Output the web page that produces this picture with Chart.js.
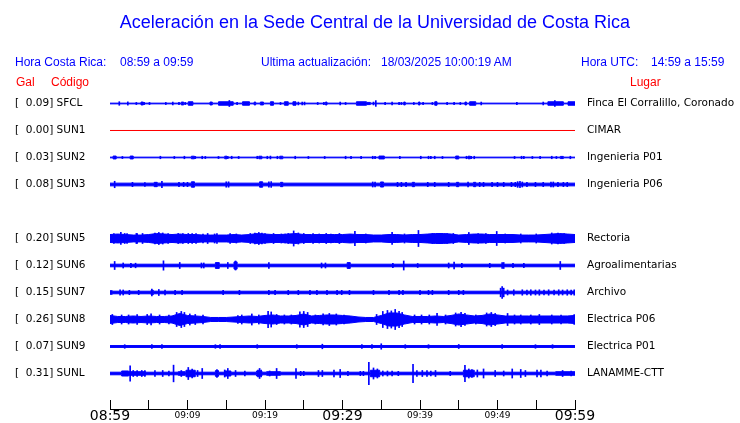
<!DOCTYPE html>
<html>
<head>
<meta charset="utf-8">
<title>Aceleración Sede Central UCR</title>
<script src="https://cdn.jsdelivr.net/npm/chart.js@4/dist/chart.umd.min.js"></script>
<style>
  body{margin:0;background:#fff;}
  #wrap{position:relative;width:740px;height:423px;overflow:hidden;}
  #wrap canvas{position:absolute;left:0;top:0;}
  .t{position:absolute;white-space:pre;line-height:1;font-family:'Liberation Sans',Arial,sans-serif;font-size:12px;color:#0000ff;}
  .red{color:#ff0000;}
  #title{left:0;width:750px;text-align:center;top:13px;font-size:18px;}
</style>
</head>
<body>
<div id="wrap">
  <canvas id="seis" width="740" height="423"></canvas>
  <div class="t" id="title">Aceleración en la Sede Central de la Universidad de Costa Rica</div>
  <div class="t" style="left:15px;top:56px">Hora Costa Rica:</div>
  <div class="t" style="left:120px;top:56px">08:59 a 09:59</div>
  <div class="t" style="left:261px;top:56px">Ultima actualización:</div>
  <div class="t" style="left:381px;top:56px">18/03/2025 10:00:19 AM</div>
  <div class="t" style="left:581px;top:56px">Hora UTC:</div>
  <div class="t" style="left:651px;top:56px">14:59 a 15:59</div>
  <div class="t red" style="left:16px;top:76px">Gal</div>
  <div class="t red" style="left:51px;top:76px">Código</div>
  <div class="t red" style="left:630px;top:76px">Lugar</div>
</div>
<script>
// stations, top to bottom (slot 4 is empty, SUN4 not reporting)
const codes = ['SFCL','SUN1','SUN2','SUN3','SUN5','SUN6','SUN7','SUN8','SUN9','SUNL'];
const places = ['Finca El Corralillo, Coronado','CIMAR','Ingenieria P01','Ingenieria P06','Rectoria',
  'Agroalimentarias','Archivo','Electrica P06','Electrica P01','LANAMME-CTT'];
const peakGal = [0.09,0.00,0.03,0.08,0.20,0.12,0.15,0.26,0.07,0.31];
const slots = [0,1,2,3,5,6,7,8,9,10];

// time axis, minutes after 08:59
const timeMinutes = [0,10,20,30,40,50,60];
const timeLabels = ['08:59','09:09','09:19','09:29','09:39','09:49','09:59'];

// envelopes: [minute, half amplitude Gal], value holds until next point
const sfclEnv = [[0,.01],[4.0,.04],[4.3,.01],[9.2,.04],[9.5,.01],[10.1,.048],[10.7,.01],[12.9,.04],[13.2,.01],
  [14.0,.048],[15.9,.01],[17.1,.048],[18.0,.01],[18.6,.04],[18.8,.01],[19.4,.04],[19.8,.01],[20.7,.048],[21.1,.01],
  [22.5,.048],[23.0,.01],[23.6,.048],[24.0,.01],[27.8,.04],[28.0,.01],[31.8,.048],[33.1,.03],[33.6,.01],
  [37.9,.04],[38.1,.01],[39.8,.04],[40.0,.01],[41.9,.048],[42.2,.01],[45.8,.04],[46.0,.01],[46.4,.048],[47.2,.01],
  [56.5,.048],[58.5,.01],[59.1,.048],[60,.048]];
const sun1Env = [[0,0],[60,0]];
const sun2Env = [[0,.01],[0.4,.04],[0.8,.01],[2.6,.04],[3.0,.01],[10.5,.036],[10.9,.01],[14.8,.036],[15.1,.01],
  [19.2,.036],[19.6,.01],[21.9,.036],[22.3,.01],[34.7,.04],[35.4,.01],[44.6,.04],[45.0,.01],[46.2,.036],[46.5,.01],
  [58.1,.03],[58.5,.01],[60,.01]];
const sun3Env = [[0,.038],[5.7,.06],[6.1,.038],[10.5,.075],[10.9,.038],[19.3,.075],[19.7,.038],[22.0,.06],[22.3,.038],
  [34.9,.07],[35.3,.038],[39.0,.06],[39.3,.038],[44.7,.06],[45.0,.038],[46.9,.06],[47.2,.038],[60,.038]];
// one value per minute
const sun5Env = [.11,.124,.11,.096,.096,.11,.138,.124,.11,.124,
  .11,.11,.096,.096,.096,.096,.11,.096,.11,.138,
  .124,.11,.11,.124,.138,.11,.11,.11,.11,.11,
  .11,.124,.11,.11,.096,.096,.11,.11,.096,.11,
  .11,.124,.138,.138,.124,.096,.11,.124,.124,.11,
  .11,.11,.11,.096,.096,.096,.11,.124,.138,.124,
  .11];
const sun6Env = [[0,.036],[13.6,.08],[14.1,.036],[16.0,.1],[16.4,.036],[30.6,.08],[31.0,.036],[60,.036]];
const sun7Env = [[0,.05],[0.3,.036],[5.3,.06],[5.6,.036],[60,.036]];
const sun8Env = [.112,.084,.084,.098,.084,.098,.084,.084,.098,.168,
  .112,.098,.084,.056,.056,.056,.07,.084,.098,.084,
  .112,.126,.098,.098,.112,.154,.098,.112,.126,.126,
  .112,.098,.07,.056,.056,.112,.182,.182,.126,.084,
  .084,.084,.098,.084,.112,.154,.126,.098,.112,.154,
  .126,.098,.098,.098,.098,.098,.098,.098,.098,.098,
  .112];
const sun9Env = [[0,.026],[60,.026]];
const sunlEnv = [[0,.036],[1.5,.07],[2.4,.05],[4.6,.036],[8.8,.05],[9.7,.036],[9.8,.09],[11.0,.036],[13.6,.08],[14.0,.036],
  [14.8,.07],[15.6,.036],[18.9,.07],[19.6,.036],[20.2,.05],[22.0,.036],[33.6,.09],[34.8,.036],[45.6,.09],[47.0,.036],
  [57.5,.05],[60,.05]];

// single spikes: [minute, half amplitude Gal]
const sfclSpikes = [[1.2,.05],[2.3,.045],[3.4,.03],[4.4,.03],[5.1,.03],[7.2,.03],[8.1,.04],[8.9,.03],[9.7,.03],[15.4,.084],
  [16.4,.03],[22.0,.03],[24.3,.04],[24.8,.04],[25.1,.04],[26.8,.03],[27.6,.03],[29.7,.04],[30.4,.03],[34.0,.04],
  [34.3,.08],[35.5,.03],[36.4,.04],[37.3,.03],[37.6,.03],[39.2,.03],[40.4,.03],[41.6,.03],[43.5,.03],[44.4,.03],
  [45.2,.03],[47.9,.04],[52.5,.03],[55.9,.04],[57.4,.084]];
const sun1Spikes = [];
const sun2Spikes = [[1.6,.03],[6.5,.035],[8.3,.03],[9.6,.035],[11.0,.03],[11.9,.035],[12.3,.03],[14.0,.03],[15.2,.03],
  [15.7,.035],[16.6,.03],[19.0,.035],[20.3,.035],[20.7,.04],[21.6,.035],[23.9,.035],[25.6,.03],[27.7,.03],[30.4,.035],
  [31.1,.03],[32.4,.035],[33.9,.035],[34.2,.035],[37.4,.03],[40.1,.035],[41.1,.035],[41.4,.035],[41.9,.035],[42.9,.03],
  [46.0,.035],[46.6,.035],[47.0,.035],[52.2,.03],[53.1,.035],[53.4,.03],[54.5,.03],[55.5,.03],[57.0,.035],[57.6,.03],[59.4,.035]];
const sun3Spikes = [[0.6,.09],[2.9,.06],[4.5,.055],[6.7,.085],[8.9,.06],[9.5,.06],[10.0,.06],[15.0,.075],[15.3,.075],
  [20.5,.075],[20.8,.08],[33.9,.07],[34.2,.07],[37.1,.06],[37.6,.06],[38.2,.06],[41.0,.06],[41.9,.06],[43.7,.06],
  [46.2,.07],[47.7,.06],[48.2,.06],[49.3,.06],[50.0,.06],[50.8,.06],[51.8,.06],[52.3,.06],[52.6,.08],[52.9,.085],
  [53.2,.07],[53.8,.06],[54.9,.06],[55.9,.06],[56.9,.07],[57.2,.07],[57.8,.06],[58.5,.06],[59.0,.06]];
const sun5Spikes = [[0.5,.14],[1.4,.168],[1.9,.14],[2.2,.14],[3.4,.14],[3.5,.14],[4.2,.14],[5.8,.154],[6.3,.168],[6.8,.154],
  [7.5,.14],[8.8,.14],[9.4,.14],[10.1,.14],[10.6,.14],[11.1,.14],[12.0,.126],[12.6,.14],[13.5,.126],[13.8,.14],
  [15.5,.14],[16.3,.126],[18.1,.14],[18.7,.154],[19.2,.168],[19.6,.154],[20.0,.14],[21.1,.14],[22.1,.126],[22.6,.126],
  [23.0,.14],[23.7,.21],[24.3,.154],[25.0,.14],[26.2,.14],[27.0,.126],[27.9,.14],[28.5,.126],[29.6,.14],[31.6,.196],
  [33.0,.126],[36.4,.168],[38.0,.126],[39.8,.224],[41.6,.14],[42.5,.14],[43.5,.14],[44.3,.14],[46.3,.168],[47.5,.14],
  [48.5,.14],[49.9,.196],[51.0,.126],[53.0,.126],[55.0,.126],[57.0,.154],[57.8,.154],[58.6,.14]];
const sun6Spikes = [[0.6,.112],[1.7,.07],[2.7,.06],[3.3,.064],[6.9,.13],[9.0,.084],[11.8,.07],[12.1,.07],[15.2,.084],
  [16.2,.126],[20.5,.084],[27.3,.07],[27.8,.07],[36.5,.06],[37.9,.126],[39.7,.056],[43.7,.07],[44.4,.098],[45.4,.06],
  [49.0,.06],[50.6,.084],[50.8,.084],[52.0,.06],[53.4,.06],[58.1,.112]];
const sun7Spikes = [[1.3,.076],[1.7,.07],[2.5,.06],[3.7,.06],[5.4,.092],[6.3,.084],[7.1,.07],[8.4,.06],[9.3,.06],[14.6,.06],
  [16.7,.06],[20.5,.06],[21.3,.06],[23.0,.06],[24.3,.06],[25.8,.06],[26.7,.06],[28.0,.06],[29.3,.06],[29.9,.06],
  [30.9,.06],[34.0,.06],[36.0,.06],[37.3,.06],[37.8,.06],[40.0,.06],[41.1,.06],[41.6,.06],[43.7,.06],[45.0,.06],
  [45.6,.06],[50.4,.12],[50.6,.162],[50.8,.12],[51.3,.07],[52.1,.076],[53.2,.076],[53.8,.07],[54.3,.076],[54.9,.07],
  [55.4,.076],[56.0,.07],[56.6,.076],[57.3,.07],[57.9,.076],[58.4,.07],[59.0,.076],[59.5,.07],[59.9,.076]];
const sun8Spikes = [[0.3,.14],[1.5,.126],[2.4,.126],[3.5,.14],[4.8,.14],[5.3,.154],[6.4,.126],[7.6,.126],[8.6,.196],[9.2,.224],
  [9.6,.196],[10.3,.154],[11.0,.14],[12.0,.126],[16.5,.112],[17.0,.126],[18.3,.154],[19.2,.126],[20.4,.224],[20.8,.21],
  [21.5,.14],[22.5,.126],[23.4,.126],[24.5,.21],[25.0,.224],[25.5,.196],[26.5,.126],[27.5,.154],[28.3,.168],[29.2,.154],
  [30.2,.126],[34.4,.14],[35.2,.224],[35.8,.252],[36.3,.238],[36.8,.28],[37.3,.224],[37.7,.196],[39.3,.126],[40.2,.126],
  [41.2,.126],[42.2,.168],[43.3,.126],[44.6,.182],[45.3,.196],[45.8,.168],[47.2,.126],[48.6,.182],[49.2,.196],[49.7,.168],
  [51.3,.168],[52.2,.126],[53.0,.126],[54.3,.126],[55.4,.14],[57.0,.126],[58.2,.126],[59.9,.14]];
const sun9Spikes = [[1.9,.05],[5.4,.05],[6.7,.05],[13.6,.05],[14.2,.05],[19.0,.05],[24.1,.05],[27.4,.064],[32.5,.05],
  [33.8,.05],[35.0,.076],[38.1,.05],[41.1,.05],[45.0,.056],[50.6,.05],[54.9,.05],[57.1,.05]];
const sunlSpikes = [[2.6,.21],[3.0,.084],[3.5,.084],[4.1,.084],[4.5,.084],[5.8,.084],[6.8,.084],[7.6,.07],[8.2,.232],
  [9.2,.084],[10.1,.168],[10.6,.126],[11.3,.084],[11.9,.14],[13.8,.112],[14.8,.098],[15.2,.14],[16.2,.084],[17.4,.07],
  [19.1,.098],[19.3,.14],[19.5,.098],[20.6,.07],[21.5,.14],[24.0,.14],[24.6,.06],[25.0,.06],[26.9,.084],[27.4,.084],
  [28.9,.098],[29.7,.112],[30.7,.06],[32.3,.06],[32.7,.06],[33.4,.308],[34.0,.154],[34.5,.126],[35.2,.07],[35.8,.07],
  [36.4,.07],[37.2,.06],[39.1,.252],[39.6,.084],[40.3,.084],[40.9,.084],[41.4,.07],[42.0,.084],[43.9,.06],[45.8,.224],
  [46.3,.126],[46.7,.112],[47.4,.098],[48.2,.126],[49.7,.084],[50.8,.07],[51.9,.126],[53.0,.112],[53.6,.084],[55.1,.098],
  [55.6,.098],[56.4,.07],[58.4,.084],[59.5,.07]];

const envs = [sfclEnv,sun1Env,sun2Env,sun3Env,sun5Env,sun6Env,sun7Env,sun8Env,sun9Env,sunlEnv];
const spikes = [sfclSpikes,sun1Spikes,sun2Spikes,sun3Spikes,sun5Spikes,sun6Spikes,sun7Spikes,sun8Spikes,sun9Spikes,sunlSpikes];

const GAIN = 1.333; // slot units per Gal
const BLUE = '#0000ff', RED = '#ff0000';

function traceSets(i){
  const c = slots[i];
  const color = codes[i] === 'SUN1' ? RED : BLUE;
  const env = envs[i];
  const paired = Array.isArray(env[0]);
  const pts = paired ? env : env.map((a,t)=>[t,a]);
  const base = {type:'line', borderColor:color, backgroundColor:color, borderWidth:1,
    pointRadius:0, tension:0, stepped: paired ? 'before' : false};
  return [
    Object.assign({}, base, {data: pts.map(p=>({x:p[0], y:c - p[1]*GAIN})), fill:'+1'}),
    Object.assign({}, base, {data: pts.map(p=>({x:p[0], y:c + p[1]*GAIN})), fill:false}),
    {type:'bar', grouped:false, barThickness:1, borderWidth:0, backgroundColor:color,
      data: spikes[i].map(s=>({x:s[0], y:[c - s[1]*GAIN, c + s[1]*GAIN]}))}
  ];
}

const datasets = [];
codes.forEach((c,i)=>{ datasets.push(...traceSets(i)); });

const leftLabels = codes.map((c,i)=>'[  ' + peakGal[i].toFixed(2) + '] ' + c);
const tickFont = {family:'DejaVu Sans', size:10.5};

function slotTicks(scale){ scale.ticks = slots.map(v=>({value:v})); }
// side label columns must not push the plot area around
function fixWidth(w){
  return s => { s.width = w; s.paddingTop = 0; s.paddingBottom = 0; };
}

new Chart(document.getElementById('seis'), {
  type:'line',
  data:{datasets},
  options:{
    responsive:false,
    animation:false,
    devicePixelRatio:1,
    layout:{padding:{top:90, left:15, right:0, bottom:0}},
    plugins:{legend:{display:false}, tooltip:{enabled:false}},
    scales:{
      x:{
        type:'linear', min:0, max:60, offset:false, position:'bottom',
        afterFit: s=>{ s.height = 14; },
        grid:{offset:false, drawOnChartArea:false, drawTicks:true, tickLength:-9, color:'#000', lineWidth:1},
        border:{display:true, color:'#000', width:1},
        ticks:{
          stepSize:5, autoSkip:false, maxRotation:0, padding:9, color:'#000',
          font: ctx => (ctx.tick && ctx.tick.value % 30 === 0)
            ? {family:'DejaVu Sans', size:14, lineHeight:1.1}
            : {family:'DejaVu Sans', size:9, lineHeight:1.5},
          callback: v => { const k = timeMinutes.indexOf(v); return k >= 0 ? timeLabels[k] : ''; }
        }
      },
      y:{
        type:'linear', reverse:true, min:-0.5, max:11.315, position:'left',
        afterFit: fixWidth(95),
        afterBuildTicks: slotTicks,
        grid:{display:false, drawTicks:false}, border:{display:false},
        ticks:{crossAlign:'far', padding:0, color:'#000', font:tickFont,
          callback: v => leftLabels[slots.indexOf(v)]}
      },
      y2:{
        type:'linear', reverse:true, min:-0.5, max:11.315, position:'right',
        afterFit: fixWidth(165),
        afterBuildTicks: slotTicks,
        grid:{display:false, drawTicks:false}, border:{display:false},
        ticks:{crossAlign:'near', padding:12, color:'#000', font:tickFont,
          callback: v => places[slots.indexOf(v)]}
      }
    }
  }
});
</script>
</body>
</html>
